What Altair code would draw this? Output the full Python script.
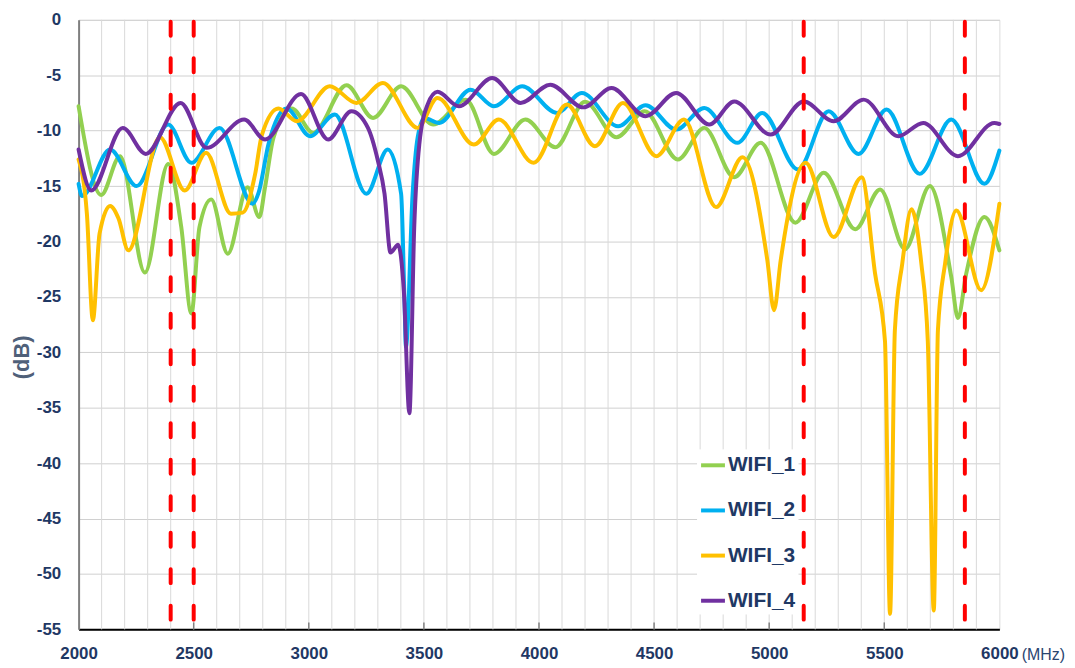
import altair as alt
import pandas as pd

# ---------------- data ----------------
names = ["WIFI_1", "WIFI_2", "WIFI_3", "WIFI_4"]
colors = ["#92d050", "#00b0f0", "#ffc000", "#7030a0"]

f1 = [2000, 2098, 2180, 2288, 2389, 2446, 2490, 2525, 2576, 2648, 2734, 2785, 2810, 2847,
      2926, 3019, 3164, 3279, 3401, 3540, 3682, 3804, 3941, 4071, 4200, 4337, 4459, 4603,
      4718, 4848, 4963, 5114, 5237, 5374, 5482, 5590, 5698, 5791, 5820, 5856, 5935, 6000]
d1 = [-7.8, -15.8, -12.3, -22.8, -13.0, -18.7, -26.5, -18.7, -16.2, -21.1, -15.1, -17.8, -15.1, -10.6,
      -8.0, -10.2, -5.9, -8.85, -6.0, -9.45, -7.2, -12.1, -9.0, -11.5, -7.4, -10.6, -8.25, -12.6,
      -9.75, -14.2, -11.1, -18.3, -13.8, -18.9, -15.3, -20.7, -15.0, -23.2, -26.9, -22.9, -17.8, -20.8]

f2 = [2000, 2015, 2137, 2252, 2389, 2490, 2612, 2756, 2782, 2825, 2904, 3005, 3113, 3250,
      3343, 3401, 3415, 3422, 3451, 3473, 3502, 3566, 3703, 3804, 3927, 4078, 4186, 4344,
      4463, 4596, 4718, 4862, 4970, 5125, 5258, 5388, 5510, 5654, 5791, 5935, 6000]
d2 = [-14.8, -15.9, -11.7, -15.0, -9.45, -12.9, -9.75, -16.6, -15.6, -11.2, -8.0, -10.5, -8.55, -15.7,
      -11.7, -15.7, -24.7, -29.5, -15.7, -10.6, -8.85, -9.3, -6.3, -7.8, -6.0, -8.4, -6.6, -9.6,
      -7.7, -9.9, -7.96, -11.1, -8.4, -13.5, -8.25, -12.1, -8.1, -13.9, -9.0, -14.8, -11.8]

f3 = [2000, 2036, 2062, 2091, 2137, 2173, 2216, 2353, 2461, 2554, 2662, 2713, 2767, 2796,
      2868, 2948, 3091, 3207, 3322, 3473, 3559, 3717, 3825, 3977, 4121, 4243, 4365, 4510,
      4630, 4769, 4884, 4992, 5021, 5050, 5158, 5280, 5402, 5460, 5503, 5525, 5546, 5578,
      5618, 5661, 5689, 5715, 5733, 5764, 5813, 5921, 6000]
d3 = [-12.6, -17.5, -27.1, -19.3, -16.8, -17.9, -20.8, -10.6, -15.4, -12.0, -17.5, -17.4, -13.9, -10.4,
      -8.0, -9.15, -6.0, -7.5, -5.7, -9.75, -7.06, -11.25, -9.0, -12.9, -7.65, -11.4, -7.5, -12.3,
      -9.0, -16.9, -12.4, -21.7, -26.2, -21.7, -12.9, -19.6, -14.2, -22.9, -29.0, -53.6, -28.0, -22.0,
      -17.1, -22.0, -29.0, -53.3, -28.0, -22.0, -17.2, -24.4, -16.6]

f4 = [2000, 2055, 2192, 2292, 2443, 2556, 2719, 2810, 2966, 3084, 3185, 3257, 3300, 3329,
      3355, 3388, 3413, 3437, 3458, 3480, 3516, 3559, 3652, 3797, 3920, 4049, 4193, 4315,
      4463, 4596, 4740, 4848, 5006, 5150, 5280, 5410, 5561, 5669, 5820, 5978, 6000]
d4 = [-11.7, -15.4, -9.75, -12.1, -7.5, -11.55, -9.0, -10.8, -6.7, -10.8, -8.25, -9.75, -12.7, -15.7,
      -21.0, -20.3, -24.5, -35.5, -18.7, -11.25, -7.65, -6.5, -7.8, -5.25, -7.5, -5.85, -7.9, -6.15,
      -8.7, -6.6, -9.45, -7.36, -10.35, -7.36, -9.15, -7.2, -10.5, -9.3, -12.3, -9.3, -9.4]

band_edges = [2400, 2500, 5150, 5850]
x_labels = [2000, 2500, 3000, 3500, 4000, 4500, 5000, 5500, 6000]
x_ticks = [2500, 3000, 3500, 4000, 4500, 5000, 5500]
x_grid = list(range(2100, 6000, 100))
y_labels = list(range(-55, 1, 5))

# ---------------- build table ----------------
rows = []
for name, fs, ds in zip(names, [f1, f2, f3, f4], [d1, d2, d3, d4]):
    for i, (f, d) in enumerate(zip(fs, ds)):
        rows.append({"series": name, "freq": f, "db": d, "idx": i})
df = pd.DataFrame(rows)
edges = pd.DataFrame({"freq": band_edges})
ticks = pd.DataFrame({"freq": x_ticks})
vgrid = pd.DataFrame({"freq": x_grid})

W, H = 926, 613
NAVY = "#1f3864"
FONT = "Liberation Sans, Arial, sans-serif"

xscale = alt.Scale(domain=[2000, 6000], nice=False, zero=False)
yscale = alt.Scale(domain=[-55, 0], nice=False, zero=False)

grid = alt.Chart(vgrid).mark_rule(color="#d9d9d9", strokeWidth=1).encode(
    x=alt.X("freq:Q", scale=xscale, axis=alt.Axis(
        values=x_labels, format="d",
        grid=False, tickSize=0, domainColor="#000000", domainWidth=2,
        labelFont=FONT, labelFontSize=17, labelFontWeight="bold", labelColor=NAVY,
        labelPadding=16, labelFlush=False, labelOverlap=False,
        title="(MHz)", titleFont=FONT, titleFontSize=16, titleFontWeight="normal",
        titleColor="#2a4570", titleX=948, titleY=25, titleAlign="left",
        titleBaseline="middle", titleAnchor="start",
    )),
    y=alt.value(0), y2=alt.value(H),
)

lines = alt.Chart(df).mark_line(
    strokeWidth=4, interpolate="monotone", strokeCap="round", strokeJoin="round"
).encode(
    x=alt.X("freq:Q", scale=xscale),
    y=alt.Y("db:Q", scale=yscale, axis=alt.Axis(
        values=y_labels,
        labelExpr="'' + datum.value",
        grid=True, gridColor="#d0d0d0", gridWidth=1,
        tickSize=0, domainColor="#7f7f7f", domainWidth=2,
        labelFont=FONT, labelFontSize=17, labelFontWeight="bold", labelColor=NAVY,
        labelPadding=18,
        title="(dB)", titleFont=FONT, titleFontSize=22,
        titleFontWeight="bold", titleColor="#4f6079", titleAngle=270,
        titleX=-57, titleY=339, titleAlign="center", titleBaseline="middle",
    )),
    color=alt.Color("series:N", scale=alt.Scale(domain=names, range=colors),
                    legend=alt.Legend(
                        title=None, orient="none", legendX=622, legendY=432,
                        symbolType="stroke", symbolSize=576, symbolStrokeWidth=4,
                        labelFont=FONT, labelFontSize=21, labelFontWeight="bold",
                        labelColor=NAVY, labelOffset=1, rowPadding=21.4,
                        padding=2, fillColor="#ffffff", strokeColor="#ffffff",
                    )),
    order="idx:Q",
)

red = alt.Chart(edges).mark_rule(
    color="#ff0000", strokeWidth=4, strokeDash=[14, 22.7], strokeDashOffset=-2,
    strokeCap="round"
).encode(
    x=alt.X("freq:Q", scale=xscale),
    y=alt.value(0), y2=alt.value(H),
)

tk = alt.Chart(ticks).mark_rule(color="#808080", strokeWidth=1.5).encode(
    x=alt.X("freq:Q", scale=xscale),
    y=alt.value(H), y2=alt.value(H - 7),
)

chart = alt.layer(grid, lines, tk, red).properties(
    width=W, height=H,
    autosize=alt.AutoSizeParams(type="none"),
    padding={"left": 71, "top": 10, "right": 68, "bottom": 45},
).configure_view(stroke="#222222", strokeWidth=1.5).configure(background="white")

chart.save("out.html", embed_options={"renderer": "svg", "actions": False})
